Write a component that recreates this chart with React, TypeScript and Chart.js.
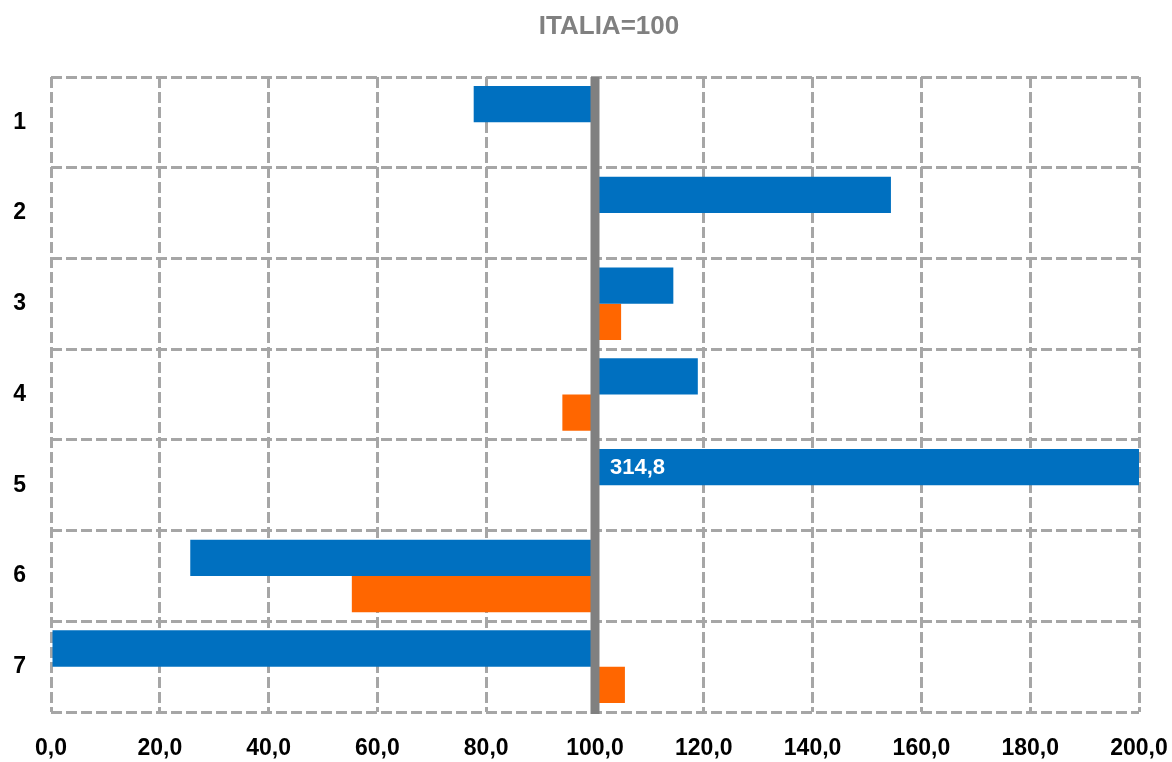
import React, { useEffect, useRef } from "react";
import { Chart, registerables } from "chart.js";

Chart.register(...registerables);

const categories = ["1", "2", "3", "4", "5", "6", "7"];
const blueValues: (number | null)[] = [77.7, 154.4, 114.4, 118.9, 314.8, 25.6, 0];
const orangeValues: (number | null)[] = [null, null, 104.8, 94.0, null, 55.3, 105.5];
const baseValue = 100;
const xTicks = [0, 20, 40, 60, 80, 100, 120, 140, 160, 180, 200];
const titleText = "ITALIA=100";

const FONT = "'Liberation Sans', Arial, sans-serif";
const GRID = "#a6a6a6";

export default function App() {
  const ref = useRef<HTMLCanvasElement | null>(null);

  useEffect(() => {
    if (!ref.current) return;
    document.body.style.margin = "0";

    const baseLine = {
      id: "baseLine",
      afterDatasetsDraw(chart: any) {
        const { ctx, chartArea, scales } = chart;
        const x = scales.x.getPixelForValue(baseValue);
        ctx.save();
        ctx.strokeStyle = "#808080";
        ctx.lineWidth = 9;
        ctx.beginPath();
        ctx.moveTo(x, chartArea.top);
        ctx.lineTo(x, chartArea.bottom + 2);
        ctx.stroke();

        // labels for clipped bars
        const max = scales.x.max;
        chart.data.datasets.forEach((ds: any, di: number) => {
          const meta = chart.getDatasetMeta(di);
          ds.data.forEach((d: any, i: number) => {
            if (!d) return;
            const v = d[1];
            if (v > max) {
              const el = meta.data[i];
              ctx.fillStyle = "#ffffff";
              ctx.font = `bold 22px ${FONT}`;
              ctx.textAlign = "left";
              ctx.textBaseline = "middle";
              ctx.fillText(v.toFixed(1).replace(".", ","), x + 15, el.y + 1);
            }
          });
        });

        // title
        ctx.fillStyle = "#808080";
        ctx.font = `bold 26px ${FONT}`;
        ctx.textAlign = "center";
        ctx.textBaseline = "middle";
        ctx.fillText(titleText, (chartArea.left + chartArea.right) / 2 + 14, 27);
        ctx.restore();
      },
    };

    const chart = new Chart(ref.current, {
      type: "bar",
      data: {
        labels: categories,
        datasets: [
          {
            label: "A",
            data: blueValues.map((v) => (v === null ? null : [baseValue, v])) as any,
            backgroundColor: "#0070C0",
            borderWidth: 0,
            categoryPercentage: 0.8,
            barPercentage: 1,
          },
          {
            label: "B",
            data: orangeValues.map((v) => (v === null ? null : [baseValue, v])) as any,
            backgroundColor: "#FF6600",
            borderWidth: 0,
            categoryPercentage: 0.8,
            barPercentage: 1,
          },
        ],
      },
      options: {
        indexAxis: "y",
        animation: false,
        responsive: false,
        maintainAspectRatio: false,
        layout: { padding: { top: 77, right: 33, left: 0, bottom: 0 } },
        plugins: {
          legend: { display: false },
          title: { display: false },
          tooltip: { enabled: false },
        },
        scales: {
          x: {
            type: "linear",
            min: 0,
            max: 200,
            afterFit(scale: any) {
              scale.height = 50;
              scale.paddingLeft = 0;
              scale.paddingRight = 0;
            },
            afterBuildTicks(scale: any) {
              scale.ticks = xTicks.map((v) => ({ value: v }));
            },
            ticks: {
              padding: 23,
              color: "#000000",
              font: { family: FONT, size: 23, weight: "bold" },
              callback: (v: any) => Number(v).toFixed(1).replace(".", ","),
              maxRotation: 0,
            },
            grid: {
              color: GRID,
              lineWidth: 3,
              drawTicks: false,
            },
            border: { display: false, dash: [11, 4] },
          },
          y: {
            type: "category",
            afterFit(scale: any) {
              scale.width = 51;
              scale.paddingTop = 0;
              scale.paddingBottom = 0;
            },
            ticks: {
              padding: 25,
              color: "#000000",
              font: { family: FONT, size: 23, weight: "bold" },
            },
            grid: {
              color: GRID,
              lineWidth: 3,
              drawTicks: false,
              offset: true,
            },
            border: { display: false, dash: [11, 4] },
          },
        },
      },
      plugins: [baseLine],
    });

    return () => chart.destroy();
  }, []);

  return (
    <div style={{ position: "absolute", left: 0, top: 0, width: 1172, height: 762, background: "#ffffff" }}>
      <canvas ref={ref} width={1172} height={762} style={{ width: 1172, height: 762 }} />
    </div>
  );
}
